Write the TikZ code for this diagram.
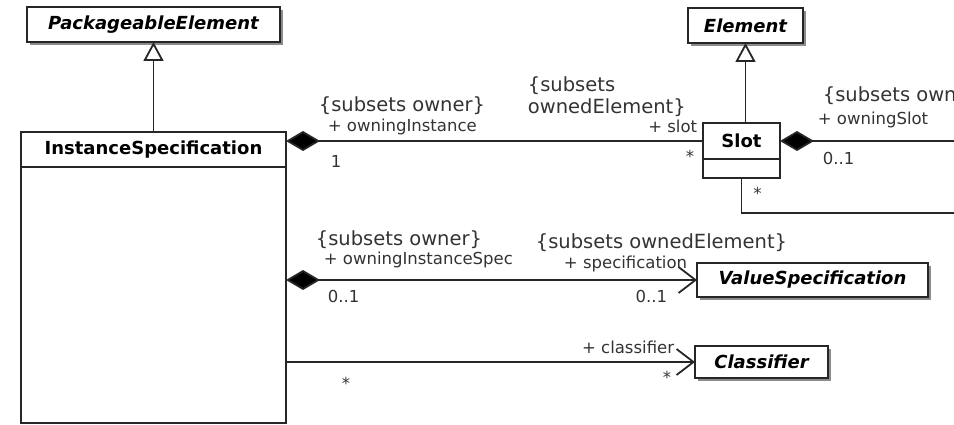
\documentclass[tikz,border=0pt]{standalone}
\usepackage{fontspec}
\setsansfont{DejaVu Sans}
\usepackage{tikz}
\usetikzlibrary{arrows.meta,positioning,shadows}

\newcommand{\classfont}{\sffamily\bfseries\fontsize{18}{21}\selectfont}
\newcommand{\rolefont}{\sffamily\fontsize{16.5}{20}\selectfont}
\newcommand{\cstrfont}{\sffamily\fontsize{19.5}{22}\selectfont}

\colorlet{umlline}{black!85}
\colorlet{umltext}{black!80}

\tikzset{
	wholetip/.tip={Diamond[length=34pt,width=20pt,fill=black]},
	navtip/.tip={Straight Barb[length=17pt,width=26pt]},
	gentip/.tip={Triangle[open,length=19pt,width=20pt,fill=white]}
}

\begin{document}
\begin{tikzpicture}[x=1pt,y=-1pt,
	classbox/.style={shape=rectangle,draw=umlline,line width=1.8pt,fill=white,inner sep=0pt,outer sep=0pt,font=\classfont},
	abstractbox/.style={classbox,font=\classfont\itshape,drop shadow={shadow xshift=3pt,shadow yshift=-3pt,fill=black!45,opacity=1}},
	role/.style={font=\rolefont,text=umltext,inner sep=0pt},
	cstr/.style={font=\cstrfont,text=umltext,inner sep=0pt,align=left},
	assoc/.style={draw=umlline,line width=1.8pt},
	comp/.style={assoc,arrows={wholetip-}},
	compnav/.style={assoc,arrows={wholetip-navtip}},
	nav/.style={assoc,arrows={-navtip}},
	gen/.style={assoc,arrows={-gentip}}]

	\useasboundingbox (0,0) rectangle (954,425);
	\clip (0,0) rectangle (954,425);

	% classes
	\node (pe) [abstractbox,minimum width=253pt,minimum height=35pt] at (153.5,24.5) {PackageableElement};
	\node (ishead) [classbox,minimum width=265pt,minimum height=35pt] at (153.5,149.5) {InstanceSpecification};
	\node (isbody) [classbox,minimum width=265pt,minimum height=256pt,below=0pt of ishead] {};
	\node (elem) [abstractbox,minimum width=115pt,minimum height=35pt] at (745.5,25.5) {Element};
	\node (slothead) [classbox,minimum width=77pt,minimum height=36pt] at (741.5,141) {Slot};
	\node (slotbody) [classbox,minimum width=77pt,minimum height=19pt,below=0pt of slothead] {};
	\node (vs) [abstractbox,minimum width=231pt,minimum height=34pt] at (812.5,280) {ValueSpecification};
	\node (cls) [abstractbox,minimum width=133pt,minimum height=32pt] at (761.5,362) {Classifier};

	% free ends at the right border
	\coordinate (rimtop) at (954,0);
	\coordinate (rimlow) at (954,213);

	% generalizations
	\draw[gen] (ishead.north -| pe.south) -- (pe.south);
	\draw[gen] (slothead.north -| elem.south) -- (elem.south);

	% InstanceSpecification -- Slot
	\draw[comp] (ishead.east |- slothead.west) -- (slothead.west)
		node[cstr,pos=0,anchor=base west,xshift=32pt,yshift=29pt] {\{subsets owner\}}
		node[role,pos=0,anchor=base west,xshift=41pt,yshift=9pt] {+ owningInstance}
		node[role,pos=0,anchor=base west,xshift=44pt,yshift=-27pt] {1}
		node[cstr,pos=1,anchor=south west,xshift=-176pt,yshift=23pt] {\{subsets\\ownedElement\}}
		node[role,pos=1,anchor=base east,xshift=-5pt,yshift=8pt] {+ slot}
		node[role,pos=1,anchor=north east,xshift=-8pt,yshift=-8pt] {*};

	% Slot -- (outside)
	\draw[comp] (slothead.east) -- (slothead.east -| rimtop)
		node[cstr,pos=0,anchor=base west,xshift=42pt,yshift=39pt] {\{subsets owner\}}
		node[role,pos=0,anchor=base west,xshift=37pt,yshift=16pt] {+ owningSlot}
		node[role,pos=0,anchor=base west,xshift=42pt,yshift=-24pt] {0..1};
	\draw[assoc] (slotbody.south) |- (rimlow)
		node[role,pos=0,anchor=north west,xshift=11pt,yshift=-8pt] {*};

	% InstanceSpecification -- ValueSpecification
	\draw[compnav] (isbody.east |- vs.west) -- (vs.west)
		node[cstr,pos=0,anchor=base west,xshift=29pt,yshift=35pt] {\{subsets owner\}}
		node[role,pos=0,anchor=base west,xshift=37pt,yshift=15pt] {+ owningInstanceSpec}
		node[role,pos=0,anchor=base west,xshift=41pt,yshift=-22pt] {0..1}
		node[cstr,pos=0,anchor=base west,xshift=249pt,yshift=32pt] {\{subsets ownedElement\}}
		node[role,pos=1,anchor=base east,xshift=-9pt,yshift=12pt] {+ specification}
		node[role,pos=1,anchor=base east,xshift=-29pt,yshift=-22pt] {0..1};

	% InstanceSpecification -- Classifier
	\draw[nav] (isbody.east |- cls.west) -- (cls.west)
		node[role,pos=0,anchor=north west,xshift=55pt,yshift=-14pt] {*}
		node[role,pos=1,anchor=base east,xshift=-20pt,yshift=9pt] {+ classifier}
		node[role,pos=1,anchor=north east,xshift=-23pt,yshift=-8pt] {*};
\end{tikzpicture}
\end{document}
